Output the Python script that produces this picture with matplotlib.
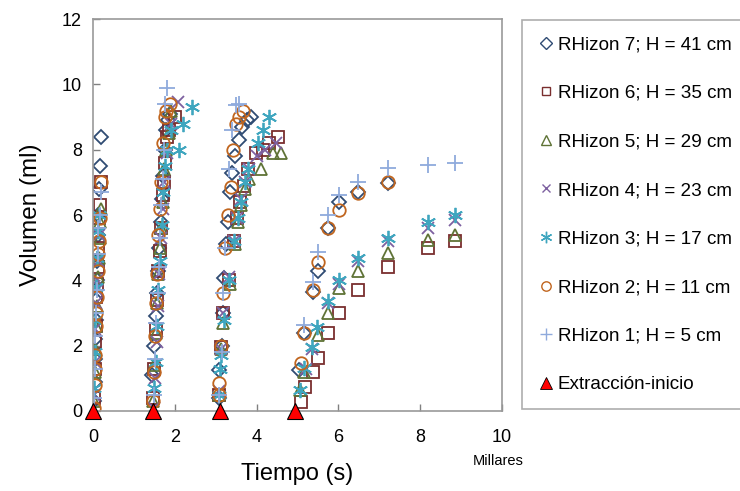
import matplotlib.pyplot as plt
from matplotlib.ticker import MultipleLocator, FuncFormatter

plt.rcParams['font.family'] = ['Liberation Sans', 'DejaVu Sans']

# tiempos en s, volúmenes en ml (cuatro extracciones seguidas)
t7 = [30, 40, 50, 60, 70, 80, 90, 100, 110, 130, 150, 170, 200,
      1450, 1490, 1530, 1560, 1590, 1620, 1650, 1680, 1710, 1750, 1790, 1830, 1870,
      3070, 3080, 3150, 3170, 3200, 3260, 3300, 3350, 3400, 3460, 3560, 3640, 3760, 3860,
      5040, 5160, 5380, 5500, 5750, 6020, 6490, 7220]
v7 = [0.3, 0.9, 1.6, 2.2, 2.8, 3.4, 4.0, 4.6, 5.4, 6.0, 6.8, 7.5, 8.4,
      1.1, 2.0, 2.9, 3.6, 4.3, 5.0, 5.8, 6.5, 7.2, 8.0, 8.6, 8.9, 9.1,
      0.4, 1.25, 2.0, 3.0, 4.07, 5.1, 5.8, 6.7, 7.3, 7.8, 8.3, 8.7, 8.9, 9.0,
      1.25, 2.4, 3.65, 4.3, 5.6, 6.4, 6.7, 6.97]

t6 = [20, 40, 60, 70, 80, 100, 110, 120, 140, 170, 200,
      1470, 1500, 1540, 1570, 1600, 1630, 1660, 1700, 1730, 1760, 1800, 1850, 2000,
      3070, 3120, 3170, 3320, 3450, 3520, 3600, 3700, 3800, 3980, 4150, 4300, 4520,
      5090, 5180, 5380, 5500, 5750, 6020, 6490, 7220, 8200, 8850]
v6 = [0.4, 1.3, 2.1, 2.6, 3.5, 3.9, 4.4, 5.0, 5.9, 6.3, 7.0,
      0.4, 1.3, 2.5, 3.4, 4.3, 4.9, 5.6, 6.6, 7.0, 7.6, 8.4, 8.6, 9.0,
      0.5, 1.96, 3.0, 4.0, 5.2, 5.9, 6.4, 6.9, 7.4, 7.9, 8.0, 8.2, 8.4,
      0.28, 0.73, 1.2, 1.62, 2.38, 3.0, 3.7, 4.4, 4.98, 5.2]

t5 = [20, 40, 60, 80, 100, 120, 140, 160, 180, 200,
      1470, 1500, 1540, 1570, 1600, 1640, 1670, 1700, 1740, 1780, 1850, 1900,
      3070, 3120, 3170, 3340, 3460, 3540, 3620, 3720, 3820, 4100, 4400, 4600,
      5060, 5160, 5500, 5750, 6020, 6490, 7220, 8200, 8850]
v5 = [0.3, 1.2, 1.9, 2.6, 3.2, 4.1, 4.7, 5.3, 5.8, 6.2,
      0.3, 1.4, 2.4, 3.3, 4.2, 5.0, 5.6, 6.4, 7.4, 8.0, 8.5, 9.2,
      0.5, 1.9, 2.7, 3.9, 5.1, 5.8, 6.3, 6.8, 7.1, 7.4, 7.9, 7.9,
      0.64, 1.2, 2.33, 3.0, 3.76, 4.3, 4.83, 5.23, 5.38]

t4 = [20, 40, 60, 80, 90, 100, 120, 150,
      1480, 1520, 1560, 1590, 1620, 1660, 1700, 1740, 1800, 1900, 2090,
      3080, 3130, 3180, 3330, 3450, 3530, 3620, 3720, 3820, 4000, 4200, 4470,
      5200, 5360, 5750, 6020, 6490, 7220, 8200, 8850]
v4 = [0.5, 1.5, 2.5, 3.3, 3.7, 4.0, 4.6, 5.4,
      0.1, 1.0, 2.1, 3.2, 4.2, 5.3, 6.2, 7.0, 7.9, 8.8, 9.45,
      0.6, 1.9, 3.0, 4.1, 5.2, 5.9, 6.5, 7.0, 7.4, 7.8, 8.0, 8.2,
      1.3, 1.9, 3.3, 3.9, 4.6, 5.2, 5.6, 5.85]

t3 = [20, 40, 60, 80, 100, 120, 140,
      1500, 1540, 1570, 1600, 1640, 1680, 1720, 1760, 1820, 1900, 2110, 2200, 2430,
      3070, 3100, 3120, 3200, 3320, 3450, 3540, 3620, 3720, 3800, 4030, 4150, 4300,
      5060, 5160, 5360, 5480, 5750, 6020, 6490, 7220, 8200, 8850]
v3 = [0.7, 1.8, 2.8, 3.8, 4.7, 5.5, 6.0,
      0.7, 1.5, 2.6, 3.7, 4.6, 5.7, 6.7, 7.5, 8.0, 8.6, 8.0, 8.8, 9.3,
      0.5, 1.3, 1.7, 2.8, 4.0, 5.2, 5.9, 6.4, 7.0, 7.4, 8.2, 8.6, 9.0,
      0.64, 1.31, 1.96, 2.57, 3.36, 4.0, 4.7, 5.3, 5.8, 6.0]

t2 = [30, 40, 50, 60, 70, 80, 90, 110, 130, 150, 170, 200,
      1470, 1500, 1520, 1540, 1570, 1600, 1630, 1660, 1700, 1770, 1790, 1870,
      3070, 3080, 3120, 3170, 3220, 3300, 3370, 3420, 3500, 3580, 3660,
      5090, 5160, 5380, 5500, 5750, 6020, 6490, 7220]
v2 = [0.1, 0.8, 1.3, 1.7, 2.6, 3.0, 3.5, 4.3, 4.8, 5.2, 5.9, 7.0,
      0.3, 1.2, 2.3, 3.3, 4.2, 5.4, 6.2, 7.0, 8.2, 9.0, 9.2, 9.4,
      0.5, 0.85, 2.0, 3.6, 5.0, 6.0, 6.85, 8.0, 8.8, 9.0, 9.2,
      1.47, 2.4, 3.7, 4.56, 5.6, 6.17, 6.67, 7.0]

t1 = [20, 40, 60, 80, 100, 110, 130, 160, 190,
      1490, 1520, 1550, 1580, 1610, 1640, 1670, 1700, 1730, 1770, 1820,
      3080, 3150, 3170, 3220, 3330, 3390, 3490, 3560,
      5160, 5380, 5500, 5750, 6020, 6490, 7220, 8200, 8850]
v1 = [0.4, 1.3, 2.3, 3.0, 3.7, 4.8, 5.6, 6.0, 6.7,
      0.5, 1.6, 2.7, 3.6, 4.4, 5.3, 6.3, 7.1, 8.0, 9.4, 9.9,
      0.5, 1.8, 3.6, 5.0, 7.4, 8.6, 9.36, 9.4,
      2.63, 3.95, 4.86, 6.0, 6.6, 7.0, 7.43, 7.52, 7.6]

t_inicio = [0, 1470, 3100, 4940]
v_inicio = [0, 0, 0, 0]

etiquetas = ['RHizon 7; H = 41 cm', 'RHizon 6; H = 35 cm', 'RHizon 5; H = 29 cm',
             'RHizon 4; H = 23 cm', 'RHizon 3; H = 17 cm', 'RHizon 2; H = 11 cm',
             'RHizon 1; H = 5 cm']

series = [(t7, v7, 'D', '#2F4B73', 7.5),
          (t6, v6, 's', '#7A2E2E', 8.5),
          (t5, v5, '^', '#5F7336', 9),
          (t4, v4, 'x', '#7D60A0', 8.5),
          (t3, v3, (6, 2, 0), '#3FA6BF', 11),
          (t2, v2, 'o', '#C0651E', 9),
          (t1, v1, '+', '#8FAADC', 11)]

fig = plt.figure(figsize=(7.4, 4.91), dpi=100)
ax = fig.add_axes([0.1257, 0.163, 0.5527, 0.798])

for (t, v, m, c, ms), lab in zip(series, etiquetas):
    ax.plot(t, v, linestyle='none', marker=m, markersize=ms,
            markerfacecolor='none', markeredgecolor=c, markeredgewidth=1.3)

ax.plot(t_inicio, v_inicio, linestyle='none', marker='^', markersize=12,
        markerfacecolor='red', markeredgecolor='black', markeredgewidth=0.8,
        clip_on=False, zorder=5)

ax.set_xlim(0, 10000)
ax.set_ylim(0, 12)
ax.xaxis.set_major_locator(MultipleLocator(2000))
ax.xaxis.set_major_formatter(FuncFormatter(lambda x, p: '%d' % round(x / 1000)))
ax.yaxis.set_major_locator(MultipleLocator(2))
ax.tick_params(direction='in', length=5, width=1, color='#808080',
               labelsize=13, pad=8)
ax.tick_params(axis='x', pad=13)
for s in ax.spines.values():
    s.set_color('#999999')
    s.set_linewidth(1.2)

ax.set_xlabel('Tiempo (s)', fontsize=17, labelpad=12)
ax.set_ylabel('Volumen (ml)', fontsize=17.5, labelpad=14)
fig.text(498 / 740, 1 - 461 / 491, 'Millares', fontsize=10.5, ha='center', va='center')

# leyenda: solo marcadores, texto a la derecha
leg_handles = []
for (t, v, m, c, ms) in series:
    lh, = ax.plot([], [], linestyle='none', marker=m, markersize=ms * 0.75,
                  markerfacecolor='none', markeredgecolor=c, markeredgewidth=1.0)
    leg_handles.append(lh)
lh, = ax.plot([], [], linestyle='none', marker='^', markersize=8,
              markerfacecolor='red', markeredgecolor='black', markeredgewidth=0.6)
leg_handles.append(lh)

leg = fig.legend(leg_handles, etiquetas + ['Extracción-inicio'],
                 loc='upper left', bbox_to_anchor=(522 / 740, 1 - 20 / 491),
                 frameon=True, fancybox=False, fontsize=13.6, labelspacing=1.66,
                 handlelength=0.8, handletextpad=0.25, borderpad=0.85,
                 borderaxespad=0)
leg.get_frame().set_edgecolor('#999999')
leg.get_frame().set_linewidth(1.2)

fig.savefig('out.png', dpi=100)
